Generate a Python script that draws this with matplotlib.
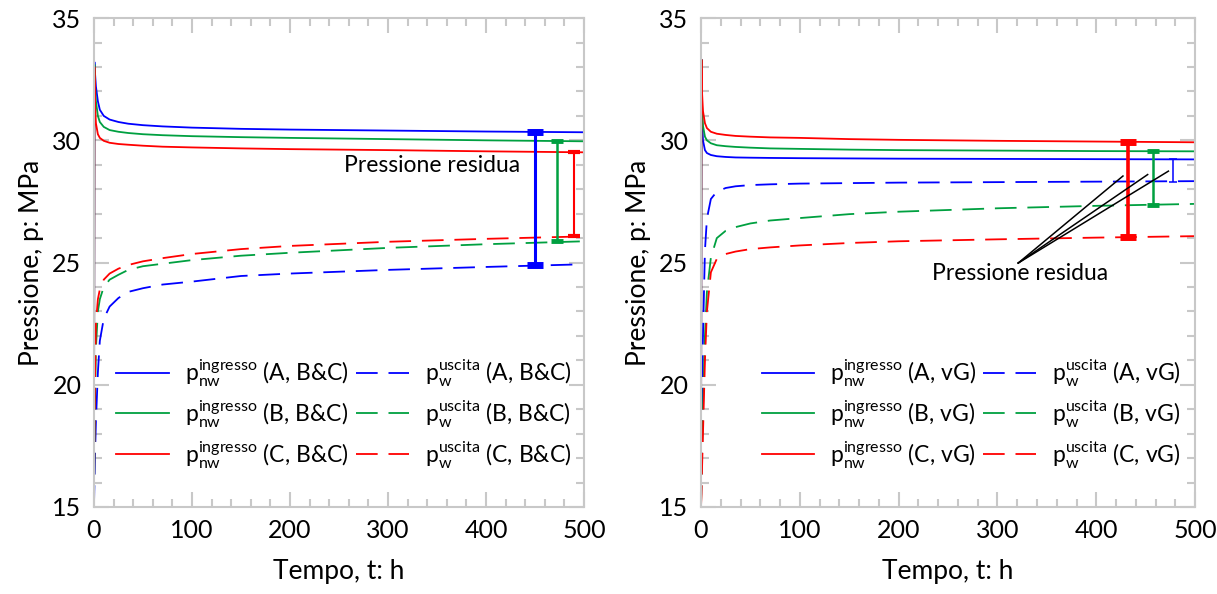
import numpy as np
import matplotlib
matplotlib.use('Agg')
import matplotlib.pyplot as plt
from matplotlib.ticker import MultipleLocator

plt.rcParams['font.family'] = ['Lato', 'DejaVu Sans']
plt.rcParams['mathtext.fontset'] = 'custom'
plt.rcParams['mathtext.rm'] = 'Lato'

# tempo [h]
t = [0, 0.5, 1, 2, 4, 6, 10, 16, 25, 35, 50, 70, 100, 150, 200, 300, 400, 500]

# modello B&C
in_A_bc = [15, 33.2, 32.8, 32.2, 31.6, 31.25, 31.0, 30.85, 30.75, 30.68, 30.62, 30.57, 30.52, 30.47, 30.44, 30.40, 30.36, 30.33]
in_B_bc = [15, 33.1, 32.3, 31.6, 31.0, 30.75, 30.55, 30.42, 30.35, 30.3, 30.25, 30.21, 30.17, 30.13, 30.1, 30.05, 30.0, 29.96]
in_C_bc = [15, 33.0, 31.5, 30.7, 30.25, 30.1, 29.98, 29.9, 29.85, 29.82, 29.78, 29.74, 29.71, 29.67, 29.64, 29.6, 29.55, 29.51]
out_A_bc = [15, 16, 17, 18.5, 20.5, 21.8, 22.7, 23.2, 23.55, 23.8, 23.95, 24.1, 24.22, 24.45, 24.55, 24.7, 24.82, 24.93]
out_B_bc = [15, 17, 19, 21.5, 23.0, 23.5, 24.0, 24.3, 24.5, 24.7, 24.85, 24.95, 25.1, 25.28, 25.4, 25.6, 25.75, 25.87]
out_C_bc = [15, 18, 20, 22.5, 23.5, 23.9, 24.3, 24.55, 24.75, 24.9, 25.05, 25.18, 25.35, 25.55, 25.68, 25.85, 25.97, 26.07]

# modello vG
in_A_vg = [15, 33.3, 31.0, 30.0, 29.6, 29.48, 29.4, 29.35, 29.32, 29.3, 29.29, 29.28, 29.27, 29.26, 29.25, 29.24, 29.23, 29.22]
in_B_vg = [15, 33.3, 31.5, 30.6, 30.15, 30.0, 29.88, 29.8, 29.76, 29.73, 29.7, 29.67, 29.65, 29.62, 29.6, 29.58, 29.56, 29.55]
in_C_vg = [15, 33.3, 32.0, 31.2, 30.7, 30.5, 30.35, 30.27, 30.22, 30.18, 30.15, 30.12, 30.1, 30.05, 30.02, 29.98, 29.95, 29.92]
out_A_vg = [15, 17, 19, 22, 25.5, 26.8, 27.6, 27.9, 28.05, 28.12, 28.17, 28.2, 28.23, 28.25, 28.27, 28.29, 28.31, 28.33]
out_B_vg = [15, 16, 17, 19, 22, 23.8, 25.2, 26.0, 26.3, 26.45, 26.6, 26.72, 26.82, 26.98, 27.08, 27.22, 27.32, 27.4]
out_C_vg = [15, 15.5, 16.5, 18, 21, 23.0, 24.6, 25.15, 25.35, 25.45, 25.55, 25.62, 25.7, 25.8, 25.87, 25.95, 26.02, 26.08]

# pressione residua
res_t_bc = [450, 472, 490]          # A, B, C
res_lo_bc = [24.9, 25.88, 26.08]
res_hi_bc = [30.33, 29.98, 29.52]
res_t_vg = [432, 457, 478]          # C, B, A
res_lo_vg = [26.05, 27.35, 28.3]
res_hi_vg = [29.92, 29.56, 29.22]

blu, verde, rosso = '#0000ff', '#00a040', '#ff0000'
colori = [blu, verde, rosso]
gray = '#c8c8c8'

fig = plt.figure(figsize=(12.17, 5.94), dpi=100)
ax1 = fig.add_axes([0.0772, 0.1465, 0.4027, 0.823])
ax2 = fig.add_axes([0.576, 0.1465, 0.406, 0.823])


def prepara(ax):
    ax.set_xlim(0, 500)
    ax.set_ylim(15, 35)
    ax.xaxis.set_major_locator(MultipleLocator(100))
    ax.xaxis.set_minor_locator(MultipleLocator(20))
    ax.yaxis.set_major_locator(MultipleLocator(5))
    ax.yaxis.set_minor_locator(MultipleLocator(1))
    ax.tick_params(which='both', direction='in', top=True, right=True, color=gray, width=1.5)
    ax.tick_params(which='major', length=11, labelsize=18, pad=9)
    ax.tick_params(which='minor', length=6)
    for s in ax.spines.values():
        s.set_color(gray)
        s.set_linewidth(1.5)
    ax.set_xlabel('Tempo, t: h', fontsize=19, labelpad=12)
    ax.set_ylabel('Pressione, p: MPa', fontsize=19, labelpad=6)


def curve(ax, ins, outs, modello, xc):
    nomi = ['A', 'B', 'C']
    for y, c, n in zip(ins, colori, nomi):
        ax.plot(t, y, color=c, lw=1.3,
                label=r'p$_{\mathregular{nw}}^{\mathregular{ingresso}}$ (' + n + ', ' + modello + ')')
    for y, c, n in zip(outs, colori, nomi):
        ax.plot(t, y, color=c, lw=1.3, dashes=(12, 6),
                label=r'p$_{\mathregular{w}}^{\mathregular{uscita}}$ (' + n + ', ' + modello + ')')
    ax.legend(ncol=2, frameon=False, fontsize=16.5, loc='center', bbox_to_anchor=(xc, 0.19),
              handlelength=2.3, handletextpad=0.7, columnspacing=0.3, labelspacing=0.4)


def barre(ax, tt, lo, hi, col, stili):
    for x, a, b, c, (lw, cs, ct) in zip(tt, lo, hi, col, stili):
        ax.errorbar([x], [(a + b) / 2], yerr=[(b - a) / 2], fmt='none', ecolor=c,
                    elinewidth=lw, capsize=cs, capthick=ct)


prepara(ax1)
curve(ax1, [in_A_bc, in_B_bc, in_C_bc], [out_A_bc, out_B_bc, out_C_bc], 'B&C', 0.51)
barre(ax1, res_t_bc, res_lo_bc, res_hi_bc, [blu, verde, rosso],
      [(2.2, 6, 5), (1.8, 4, 3.5), (1.5, 4, 3)])
ax1.text(345, 28.95, 'Pressione residua', fontsize=16.5, ha='center', va='center')

prepara(ax2)
curve(ax2, [in_A_vg, in_B_vg, in_C_vg], [out_A_vg, out_B_vg, out_C_vg], 'vG', 0.547)
barre(ax2, res_t_vg, res_lo_vg, res_hi_vg, [rosso, verde, blu],
      [(2.6, 6, 5), (1.8, 4, 3.5), (1.1, 3, 1.1)])
ax2.text(323, 24.55, 'Pressione residua', fontsize=16.5, ha='center', va='center')
for xe, ye in [(427, 28.54), (452, 28.6), (473, 28.74)]:
    ax2.plot([321, xe], [24.98, ye], color='black', lw=1.1)

fig.savefig('out.png', dpi=100)
